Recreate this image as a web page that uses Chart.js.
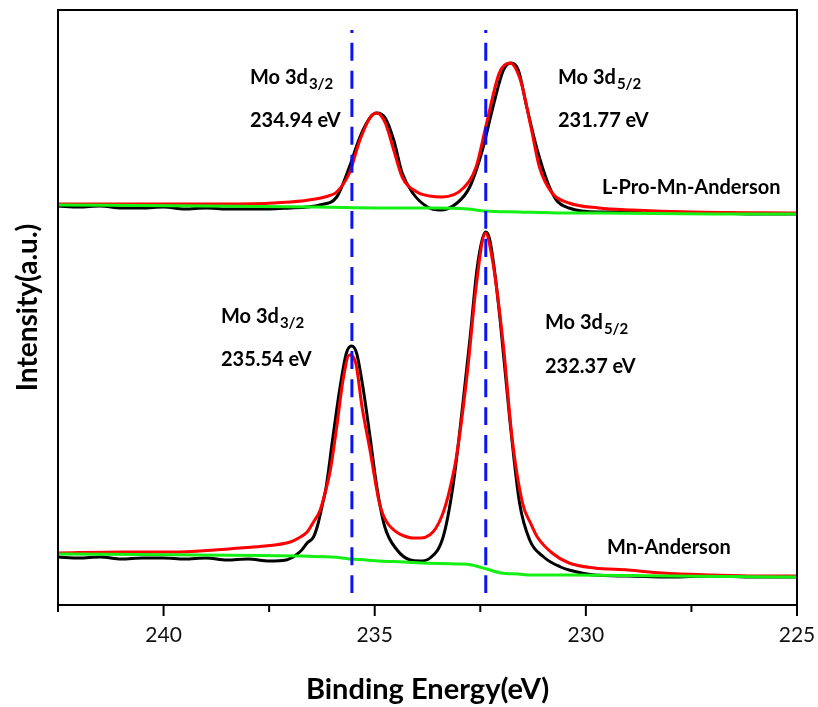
<!DOCTYPE html>
<html>
<head>
<meta charset="utf-8">
<script src="https://cdn.jsdelivr.net/npm/chart.js@4.4.0/dist/chart.umd.min.js"></script>
<style>
  html, body { margin: 0; padding: 0; background: #fff; }
  #wrap { width: 818px; height: 707px; }
</style>
</head>
<body>
<div id="wrap"><canvas id="c" width="818" height="707"></canvas></div>
<script>
const FONT = 'Lato, "Open Sans", "Liberation Sans", sans-serif';

// ---- Mn-Anderson (lower spectrum) ----
const MN_RAW_E = [242.5, 242.0, 241.5, 241.0, 240.5, 240.0, 239.5, 239.0, 238.5, 238.0,
  237.5, 237.1, 236.9, 236.75, 236.6, 236.45, 236.35, 236.23, 236.15, 235.99,
  235.82, 235.67, 235.55, 235.43, 235.28, 235.11, 234.95, 234.76, 234.47, 234.16,
  233.93, 233.69, 233.38, 233.15, 232.91, 232.74, 232.58, 232.45, 232.37, 232.28,
  232.18, 232.03, 231.8, 231.57, 231.33, 231.0, 230.6, 230.4, 229.8, 229.0,
  228.0, 227.0, 226.0, 225.0];
const MN_RAW_I = [48, 47, 48, 46, 47, 47, 46, 47, 45, 46,
  44, 45, 49, 54, 62, 68, 80, 102, 118, 168,
  218, 252, 259, 252, 218, 168, 118, 78, 55, 45,
  44, 47, 68, 118, 202, 268, 335, 366, 373, 366,
  340, 285, 185, 102, 65, 48, 38, 35, 30, 29,
  28, 29, 28, 28];

const MN_FIT_E = [242.5, 241.0, 239.8, 238.8, 238.2, 237.6, 237.0, 236.8, 236.6, 236.45,
  236.3, 236.2, 236.05, 235.9, 235.75, 235.6, 235.45, 235.3, 235.1, 235.0,
  234.9, 234.8, 234.7, 234.6, 234.45, 234.3, 234.1, 233.9, 233.7, 233.55,
  233.4, 233.3, 233.2, 233.05, 232.8, 232.6, 232.38, 232.2, 231.95, 231.75,
  231.5, 231.3, 231.15, 230.8, 230.4, 229.8, 229.0, 228.2, 227.0, 226.0, 225.0];
const MN_FIT_I = [52, 53, 53, 55, 57, 59, 63, 67, 73, 83,
  94, 108, 135, 178, 225, 250, 242, 198, 152, 127,
  104, 90, 82, 77, 72, 69, 67, 67, 70, 77,
  90, 103, 120, 152, 235, 318, 372, 342, 258, 168,
  102, 81, 68, 52, 42, 37, 35, 32, 30, 29, 29];

const MN_BG_E = [242.5, 239.1, 236.0, 235.6, 235.2, 234.9, 234.3, 233.9, 233.0, 232.7,
  232.35, 232.0, 231.6, 231.3, 230.4, 228.0, 225.0];
const MN_BG_I = [51, 50, 48, 46, 45, 44, 43, 42, 41, 40,
  36, 32, 31, 30, 30, 29, 28];

// ---- L-Pro-Mn-Anderson (upper spectrum) ----
const LP_RAW_E = [242.5, 242.0, 241.5, 241.0, 240.5, 240.0, 239.5, 239.0, 238.5, 238.0,
  237.5, 237.0, 236.6, 236.3, 235.9, 235.6, 235.35, 235.1, 234.95, 234.75,
  234.55, 234.35, 234.1, 233.75, 233.45, 233.05, 232.75, 232.45, 232.2, 231.95,
  231.77, 231.6, 231.4, 231.15, 230.9, 230.7, 230.4, 229.7, 229.0, 228.0,
  227.0, 226.0, 225.0];
const LP_RAW_I = [399, 398, 399, 397, 397, 398, 396, 397, 396, 396,
  396, 397, 398, 400, 408, 438, 468, 488, 492, 487,
  465, 432, 412, 398, 395, 402, 418, 455, 498, 535,
  542, 535, 498, 455, 422, 405, 397, 393, 393, 392,
  392, 391, 391];

const LP_FIT_E = [242.5, 240.0, 238.2, 237.0, 236.4, 236.1, 235.9, 235.6, 235.35, 235.1,
  234.95, 234.75, 234.55, 234.35, 234.0, 233.7, 233.4, 232.9, 232.6, 232.35,
  232.05, 231.8, 231.55, 231.3, 231.1, 230.8, 230.4, 229.7, 228.9, 227.5, 225.0];
const LP_FIT_I = [401, 401, 401, 403, 406, 409, 413, 432, 465, 488,
  492, 482, 455, 428, 413, 409, 408, 417, 438, 482,
  532, 542, 525, 478, 438, 412, 402, 397, 395, 393, 392];

const LP_BG_E = [242.5, 239.0, 236.4, 234.5, 233.5, 232.8, 232.4, 231.6, 230.5, 229.7, 227.0, 225.0];
const LP_BG_I = [400, 399, 398, 397, 397, 396, 394, 393, 392, 392, 391, 391];

// ---- reference lines (Mn-Anderson peak positions) ----
const REF_PEAKS = [235.54, 232.37];
const REF_SPAN = [12, 575];

// ---- axis ----
const X_MIN = 225, X_MAX = 242.5, X_STEP = 2.5;
const Y_MIN = 0, Y_MAX = 595;

const xy = (E, I) => E.map((e, i) => ({ x: e, y: I[i] }));

const lineDs = (data, color) => ({
  data, borderColor: color, borderWidth: 3, pointRadius: 0,
  cubicInterpolationMode: 'monotone', fill: false
});

const framePlugin = {
  id: 'frame',
  afterDraw(chart) {
    const { ctx, chartArea: a, scales: { x } } = chart;
    ctx.save();
    ctx.strokeStyle = '#000';
    ctx.lineWidth = 2;
    ctx.strokeRect(a.left, a.top, a.right - a.left, a.bottom - a.top);
    x.ticks.forEach(t => {
      const px = x.getPixelForValue(t.value);
      const major = Math.abs(t.value % 5) < 1e-6;
      ctx.beginPath();
      ctx.moveTo(px, a.bottom);
      ctx.lineTo(px, a.bottom + (major ? 11 : 7));
      ctx.stroke();
    });
    ctx.restore();
  }
};

const TEXTS = [
  { x: 250, y: 84, main: 'Mo 3d', sub: '3/2' },
  { x: 250, y: 127, main: '234.94 eV' },
  { x: 558, y: 84, main: 'Mo 3d', sub: '5/2' },
  { x: 558, y: 127, main: '231.77 eV' },
  { x: 602, y: 194, main: 'L-Pro-Mn-Anderson' },
  { x: 221, y: 323, main: 'Mo 3d', sub: '3/2' },
  { x: 221, y: 366, main: '235.54 eV' },
  { x: 545, y: 329, main: 'Mo 3d', sub: '5/2' },
  { x: 545, y: 373, main: '232.37 eV' },
  { x: 607, y: 554, main: 'Mn-Anderson' }
];

const textPlugin = {
  id: 'texts',
  afterDraw(chart) {
    const ctx = chart.ctx;
    ctx.save();
    ctx.fillStyle = '#000';
    ctx.textBaseline = 'alphabetic';
    ctx.textAlign = 'left';
    TEXTS.forEach(t => {
      ctx.font = 'bold 20px ' + FONT;
      ctx.fillText(t.main, t.x, t.y);
      if (t.sub) {
        const w = ctx.measureText(t.main).width;
        ctx.font = 'bold 15px ' + FONT;
        ctx.fillText(t.sub, t.x + w + 1, t.y + 5);
      }
    });
    ctx.restore();
  }
};

new Chart(document.getElementById('c'), {
  type: 'line',
  data: {
    datasets: [
      Object.assign(lineDs(xy([REF_PEAKS[0], REF_PEAKS[0]], REF_SPAN), '#0a14f0'), { borderDash: [18, 10] }),
      Object.assign(lineDs(xy([REF_PEAKS[1], REF_PEAKS[1]], REF_SPAN), '#0a14f0'), { borderDash: [18, 10] }),
      lineDs(xy(LP_BG_E, LP_BG_I), '#14f014'),
      lineDs(xy(MN_BG_E, MN_BG_I), '#14f014'),
      lineDs(xy(LP_FIT_E, LP_FIT_I), '#ff0000'),
      lineDs(xy(MN_FIT_E, MN_FIT_I), '#ff0000'),
      lineDs(xy(LP_RAW_E, LP_RAW_I), '#000000'),
      lineDs(xy(MN_RAW_E, MN_RAW_I), '#000000')
    ]
  },
  options: {
    responsive: false,
    animation: false,
    devicePixelRatio: 1,
    layout: { padding: { top: 10, right: 21, left: 0, bottom: 0 } },
    plugins: { legend: { display: false }, tooltip: { enabled: false } },
    scales: {
      x: {
        type: 'linear', min: X_MIN, max: X_MAX, reverse: true,
        afterFit(s) { s.height = 102; s.paddingLeft = 0; s.paddingRight = 0; },
        grid: { display: false, drawTicks: false },
        border: { display: true, color: '#000', width: 2 },
        ticks: {
          stepSize: X_STEP, autoSkip: false, maxRotation: 0, padding: 18,
          color: '#111', font: { family: FONT, size: 21 },
          callback: v => (v % 5 === 0 ? String(v) : '')
        },
        title: {
          display: true, text: 'Binding Energy(eV)', color: '#000',
          font: { family: FONT, size: 29, weight: 'bold' },
          padding: { top: 0, bottom: 0 }
        }
      },
      y: {
        type: 'linear', min: Y_MIN, max: Y_MAX,
        afterFit(s) { s.width = 58; },
        grid: { display: false },
        ticks: { display: false },
        border: { display: true, color: '#000', width: 2 },
        title: {
          display: true, text: 'Intensity(a.u.)', color: '#000',
          font: { family: FONT, size: 28, weight: 'bold' },
          padding: { top: 11, bottom: 0 }
        }
      }
    }
  },
  plugins: [framePlugin, textPlugin]
});
</script>
</body>
</html>
